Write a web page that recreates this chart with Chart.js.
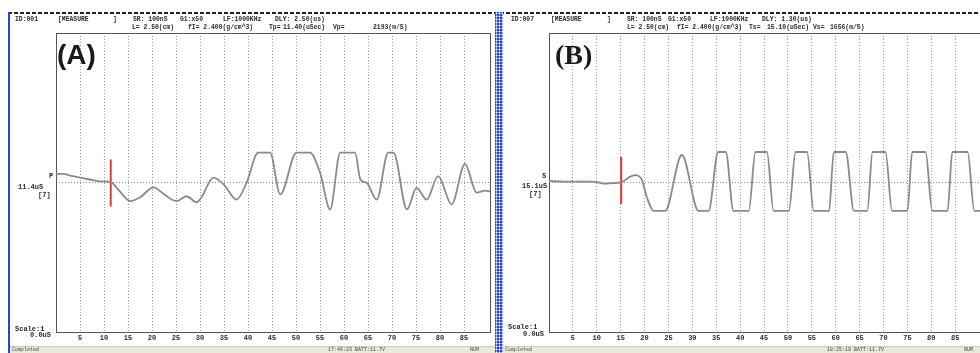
<!DOCTYPE html>
<html>
<head>
<meta charset="utf-8">
<script src="https://cdn.jsdelivr.net/npm/chart.js@4.4.1/dist/chart.umd.min.js"></script>
<style>
  html, body { margin: 0; padding: 0; background: #fff; overflow: hidden; }
  #wrap { position: relative; width: 980px; height: 353px; overflow: hidden; background: #fff; }
  canvas { position: absolute; top: 0; }
  #cA { left: 0; }
  #cB { left: 503px; }
  .topline { position: absolute; left: 8px; top: 12px; width: 972px; height: 2px;
    background: repeating-linear-gradient(90deg, #222 0 4px, transparent 4px 6px); }
  .leftedge { position: absolute; left: 8px; top: 12px; width: 2px; height: 341px; background: #2746c8; }
  .divider { position: absolute; left: 495px; top: 12px; width: 8px; height: 341px; background-color: #2a48c6;
    background-image: radial-gradient(circle, #fff 0.9px, transparent 1.1px); background-size: 3px 3px; }
  .status { position: absolute; top: 346px; height: 7px; background: #ece9d8; border-top: 1px solid #cfcbb8; }
</style>
</head>
<body>
<div id="wrap">
  <div class="topline"></div>
  <div class="leftedge"></div>
  <div class="divider"></div>
  <div class="status" style="left:10px;width:485px;"></div>
  <div class="status" style="left:503px;width:477px;"></div>
  <canvas id="cA" width="496" height="353"></canvas>
  <canvas id="cB" width="490" height="353"></canvas>
</div>
<script>
// Time axis (uS) and normalised amplitude of the P-wave trace (panel A)
const timeA = [0, 1.5, 3, 5, 7, 9.2, 11.4, 13.3, 15.4, 17.5, 20.3, 22.7, 25.1, 27.2, 29.3,
  30.2, 32.8, 35.0, 37.6, 39.7, 42.1, 44.6, 46.7, 50.1, 52.9, 55.0, 57.1, 59.2, 62.3, 63.4,
  64.7, 66.8, 69.2, 70.3, 73.1, 75.1, 77.2, 79.6, 82.4, 85.2, 87.6, 89.4, 90.4];
const ampA = [0.29, 0.29, 0.23, 0.16, 0.1, 0.04, 0.01, -0.3, -0.62, -0.5, -0.16, -0.42, -0.62, -0.46, -0.66,
  -0.52, 0.16, -0.08, -0.57, -0.01, 1.0, 1.0, -0.4, 1.0, 1.0, 0.33, -0.9, 1.0, 1.0, 0.1,
  -0.01, -0.57, 1.0, 1.0, -0.9, -0.18, -0.57, 0.21, -0.73, 0.62, -0.34, -0.27, -0.3];

// Time axis (uS) and normalised amplitude of the S-wave trace (panel B)
const timeB = [0, 3, 6, 8.6, 10.5, 11.7, 13.2, 15.1, 16.6, 18.0, 19.4, 20.5, 21.9, 24.3, 27.8,
  31.3, 33.4, 35.4, 37.0, 38.6, 41.8, 43.2, 45.6, 47.0, 50.2, 51.6, 54.0, 55.4, 58.6, 59.6,
  62.1, 63.8, 66.6, 67.7, 70.4, 71.8, 75.0, 76.0, 78.8, 80.2, 83.4, 84.4, 87.6, 89.0, 91.0];
const ampB = [0.05, 0.03, 0.03, 0.03, 0.0, -0.04, -0.02, 0.0, 0.16, 0.25, 0.1, -0.5, -0.95, -0.95, 0.92,
  -0.95, -0.95, 1.02, 1.02, -0.95, -0.95, 1.02, 1.02, -0.95, -0.95, 1.02, 1.02, -0.95, -0.95, 1.02,
  1.02, -0.95, -0.95, 1.02, 1.02, -0.95, -0.95, 1.02, 1.02, -0.95, -0.95, 1.02, 1.02, -0.95, -0.95];

// Picked arrival times (uS) and the span of the red pick marker
const pickA = 11.4;
const pickB = 15.1;
const pickSpanA = [0.77, -0.8];
const pickSpanB = [0.85, -0.72];

// Axis range and tick spacing
const timeMin = 0;
const timeMax = 90.4;
const tickStep = 5;

// Header / side texts: [text, x, y]
const headerA = [
  ['ID:001', 15, 19], ['[MEASURE', 58, 19], [']', 113, 19], ['SR: 100nS', 133, 19], ['G1:x50', 180, 19],
  ['LF:1000KHz', 223, 19], ['DLY: 2.50(us)', 275, 19],
  ['L= 2.50(cm)', 132, 27], ['fI= 2.400(g/cm^3)', 188, 27], ['Tp=', 269, 27], ['11.40(uSec)', 283, 27],
  ['Vp=', 333, 27], ['2193(m/S)', 373, 27]
];
const headerB = [
  ['ID:007', 511, 19], ['[MEASURE', 551, 19], [']', 607, 19], ['SR: 100nS', 627, 19], ['G1:x50', 668, 19],
  ['LF:1000KHz', 710, 19], ['DLY: 1.30(us)', 762, 19],
  ['L= 2.50(cm)', 627, 27], ['fI= 2.400(g/cm^3)', 677, 27], ['Ts=', 749, 27], ['15.10(uSec)', 767, 27],
  ['Vs=', 813, 27], ['1656(m/S)', 830, 27]
];
const sideA = [['P', 49, 176], ['11.4uS', 18, 187], ['[7]', 38, 195], ['Scale:1', 15, 329], ['0.0uS', 30, 335]];
const sideB = [['S', 542, 176], ['15.1uS', 522, 186], ['[7]', 529, 194], ['Scale:1', 508, 327], ['0.0uS', 523, 334]];
const statusA = [['Completed', 12, 350], ['17:46:23 BATT:11.7V', 328, 350], ['NUM', 470, 350]];
const statusB = [['Completed', 505, 350], ['10:25:19 BATT:11.7V', 827, 350], ['NUM', 964, 350]];

const MONO = '"Liberation Mono", "DejaVu Sans Mono", monospace';

function isMajor(v) {
  const k = Math.round(v / tickStep);
  return Math.abs(v - k * tickStep) < 1e-6 && v > timeMin + 1e-6 && v < timeMax - 1;
}

// Panel frame, title letter and instrument read-outs
const panelDecor = {
  id: 'panelDecor',
  beforeDatasetsDraw(chart, args, opts) {
    const { ctx, chartArea: a } = chart;
    ctx.save();
    ctx.strokeStyle = '#555';
    ctx.lineWidth = 1;
    ctx.strokeRect(a.left + 0.5, a.top + 0.5, a.right - a.left, a.bottom - a.top);
    ctx.restore();
  },
  afterDraw(chart, args, opts) {
    const { ctx } = chart;
    const dx = opts.offsetX;
    ctx.save();
    ctx.fillStyle = '#2b2b2b';
    ctx.textBaseline = 'middle';
    ctx.textAlign = 'left';
    ctx.font = 'bold 6.4px ' + MONO;
    opts.header.forEach(([t, x, y]) => ctx.fillText(t, x - dx, y));
    ctx.font = 'bold 7px ' + MONO;
    opts.side.forEach(([t, x, y]) => ctx.fillText(t, x - dx, y));
    ctx.font = '5px ' + MONO;
    ctx.fillStyle = '#444';
    opts.status.forEach(([t, x, y]) => ctx.fillText(t, x - dx, y));
    ctx.fillStyle = '#1a1a1a';
    ctx.textBaseline = 'alphabetic';
    ctx.font = opts.titleFont;
    ctx.fillText(opts.title, opts.titleX - dx, 64);
    ctx.restore();
  }
};

function makeChart(id, times, amps, pick, span, pad, decor) {
  const trace = times.map((t, i) => ({ x: t, y: amps[i] }));
  return new Chart(document.getElementById(id), {
    type: 'line',
    data: {
      datasets: [
        {
          data: trace,
          borderColor: '#8a8a8a',
          borderWidth: 1.8,
          pointRadius: 0,
          cubicInterpolationMode: 'monotone',
          fill: false
        },
        {
          data: [{ x: pick, y: span[0] }, { x: pick, y: span[1] }],
          borderColor: '#e23b34',
          borderWidth: 2,
          pointRadius: 0,
          tension: 0,
          fill: false
        }
      ]
    },
    options: {
      responsive: false,
      animation: false,
      devicePixelRatio: 1,
      layout: { padding: pad },
      plugins: { legend: { display: false }, tooltip: { enabled: false }, panelDecor: decor },
      scales: {
        x: {
          type: 'linear',
          min: timeMin,
          max: timeMax,
          afterFit: s => { s.height = 21; },
          ticks: {
            stepSize: tickStep,
            autoSkip: false,
            maxRotation: 0,
            padding: 2,
            color: '#2b2b2b',
            font: { family: MONO, size: 7, weight: 'bold' },
            callback: v => (isMajor(v) ? String(Math.round(v)) : '')
          },
          grid: {
            drawTicks: false,
            tickLength: 0,
            lineWidth: 1,
            color: c => (c.tick && isMajor(c.tick.value) ? '#9a9a9a' : 'rgba(0,0,0,0)')
          },
          border: { display: false, dash: [1, 2] }
        },
        y: {
          type: 'linear',
          min: -5,
          max: 5,
          afterFit: s => { s.width = 0; },
          ticks: { display: false, stepSize: 1 },
          grid: {
            drawTicks: false,
            tickLength: 0,
            color: c => (c.tick && Math.abs(c.tick.value) < 1e-6 ? '#8a8a8a' : 'rgba(0,0,0,0)')
          },
          border: { display: false, dash: [1, 2] }
        }
      }
    },
    plugins: [panelDecor]
  });
}

makeChart('cA', timeA, ampA, pickA, pickSpanA, { left: 56, top: 33, right: 6, bottom: 0 }, {
  offsetX: 0, header: headerA, side: sideA, status: statusA,
  title: '(A)', titleX: 57, titleFont: 'bold 28px "Liberation Sans", Arial, sans-serif'
});
makeChart('cB', timeB, ampB, pickB, pickSpanB, { left: 46, top: 33, right: 12, bottom: 0 }, {
  offsetX: 503, header: headerB, side: sideB, status: statusB,
  title: '(B)', titleX: 555, titleFont: 'bold 28px "Liberation Serif", "DejaVu Serif", serif'
});
</script>
</body>
</html>
